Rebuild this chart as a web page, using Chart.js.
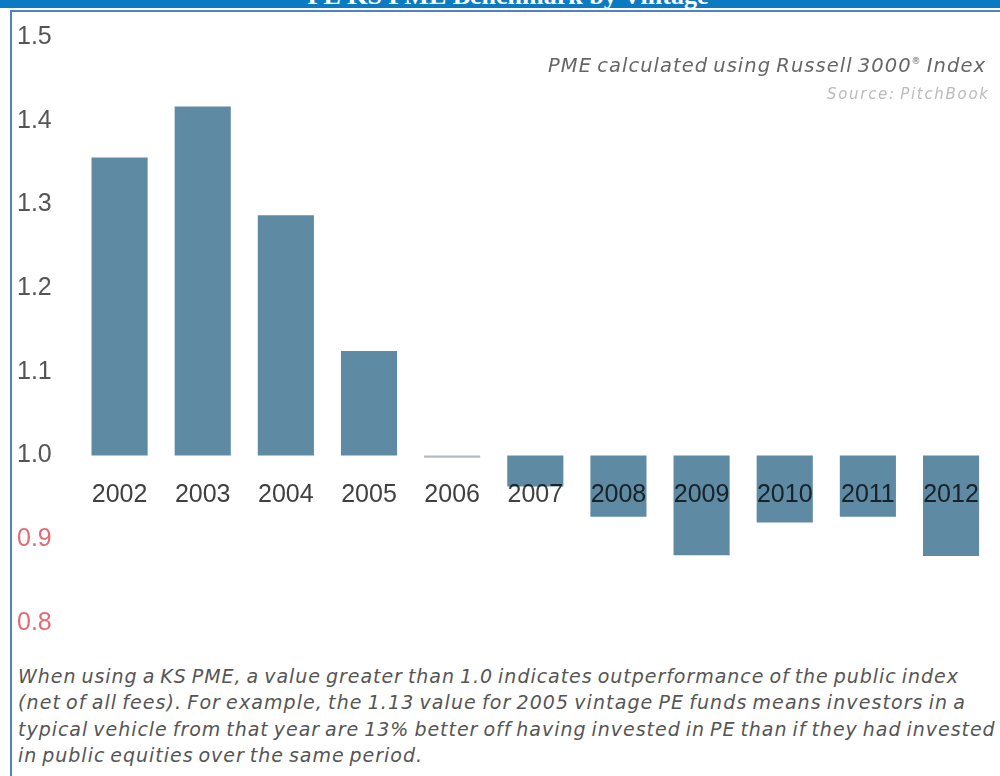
<!DOCTYPE html>
<html>
<head>
<meta charset="utf-8">
<script src="https://cdn.jsdelivr.net/npm/chart.js@4.4.1/dist/chart.umd.min.js"></script>
<style>
  html, body { margin: 0; padding: 0; background: #ffffff; }
  body { width: 1000px; height: 776px; position: relative; overflow: hidden; }
  #header { position: absolute; left: 0; top: 0; width: 1000px; height: 8px; background: #0a7bc2; overflow: hidden; }
  #header span { position: absolute; left: 0; width: 1016px; top: -17px; text-align: center; color: #ffffff;
    font-family: "Liberation Serif", serif; font-weight: bold; font-size: 26px; line-height: 26px; white-space: nowrap; }
  #frame { position: absolute; left: 10px; top: 10px; width: 1000px; height: 780px;
    border-left: 2px solid #4d82c6; border-top: 2px solid #4d82c6; }
  #wrap { position: absolute; left: 0; top: 0; width: 1000px; height: 650px; }
  .fit { position: absolute; white-space: nowrap; font-family: "DejaVu Sans", sans-serif; font-style: italic; }
  #sub { top: 50px; font-size: 19.5px; line-height: 22px; color: #666666; word-spacing: -2px; }
  #sub sup { font-size: 9px; vertical-align: 8px; }
  #src { top: 86px; font-size: 15px; line-height: 16px; color: #bbbbbb; word-spacing: -2px; }
  .note { font-size: 19px; line-height: 22px; color: #555555; word-spacing: -2px; }
</style>
</head>
<body>
<div id="header"><span>PE KS PME Benchmark by Vintage</span></div>
<div id="frame"></div>
<div id="wrap"><canvas id="c" width="1000" height="650"></canvas></div>
<div id="sub" class="fit" data-l="548" data-r="985">PME calculated using Russell 3000<sup>®</sup> Index</div>
<div id="src" class="fit" data-l="827" data-r="988">Source: PitchBook</div>
<div class="fit note" style="top:665px" data-l="18" data-r="958">When using a KS PME, a value greater than 1.0 indicates outperformance of the public index</div>
<div class="fit note" style="top:691px" data-l="18" data-r="965">(net of all fees). For example, the 1.13 value for 2005 vintage PE funds means investors in a</div>
<div class="fit note" style="top:718px" data-l="18" data-r="995">typical vehicle from that year are 13% better off having invested in PE than if they had invested</div>
<div class="fit note" style="top:744px" data-l="18" data-r="422">in public equities over the same period.</div>
<script>
const vintages = ["2002","2003","2004","2005","2006","2007","2008","2009","2010","2011","2012"];
const pmeValues = [1.356, 1.417, 1.287, 1.125, 0.9975, 0.963, 0.927, 0.881, 0.920, 0.927, 0.880];
const baseline = 1.0;
const yTicks = [0.8, 0.9, 1.0, 1.1, 1.2, 1.3, 1.4, 1.5];

const barColor = '#5f8aa3';
const flatColor = '#b3bac0';

// stretch the annotation lines to the widths seen in the reference
document.querySelectorAll('.fit').forEach(el => {
  const l = +el.dataset.l, r = +el.dataset.r;
  el.style.left = l + 'px';
  const n = el.textContent.length;
  const w0 = el.getBoundingClientRect().width;
  el.style.letterSpacing = ((r - l - w0) / Math.max(1, n - 1)) + 'px';
});

const multiplyLabels = {
  id: 'multiplyLabels',
  afterDatasetsDraw(chart) { chart.ctx.globalCompositeOperation = 'multiply'; },
  afterDraw(chart) { chart.ctx.globalCompositeOperation = 'source-over'; }
};

new Chart(document.getElementById('c'), {
  type: 'bar',
  data: {
    labels: vintages,
    datasets: [{
      data: pmeValues.map(v => [baseline, v]),
      backgroundColor: pmeValues.map(v => Math.abs(v - baseline) < 0.005 ? flatColor : barColor),
      borderWidth: 0,
      barPercentage: 0.9,
      categoryPercentage: 0.75
    }]
  },
  options: {
    responsive: false,
    animation: false,
    devicePixelRatio: 1,
    layout: { padding: { left: 17, right: 7.4, top: 37, bottom: 27 } },
    plugins: { legend: { display: false }, tooltip: { enabled: false }, title: { display: false } },
    scales: {
      x: {
        position: { y: baseline },
        grid: { display: false },
        border: { display: false },
        ticks: {
          z: 1,
          color: '#404040',
          font: { family: '"Liberation Sans", Arial, sans-serif', size: 25 },
          padding: 17,
          maxRotation: 0,
          autoSkip: false
        },
        afterFit(s) { s.paddingLeft = 0; s.paddingRight = 0; }
      },
      y: {
        min: 0.8,
        max: 1.5,
        afterBuildTicks(s) { s.ticks = yTicks.map(v => ({ value: v })); },
        grid: { display: false },
        border: { display: false },
        ticks: {
          crossAlign: 'far',
          padding: 0,
          font: { family: '"Liberation Sans", Arial, sans-serif', size: 25 },
          color: ctx => ctx.tick.value < baseline - 1e-9 ? '#e36b75' : '#555555',
          callback: v => Number(v).toFixed(1)
        },
        afterFit(s) { s.width = 61; }
      }
    }
  },
  plugins: [multiplyLabels]
});
</script>
</body>
</html>
